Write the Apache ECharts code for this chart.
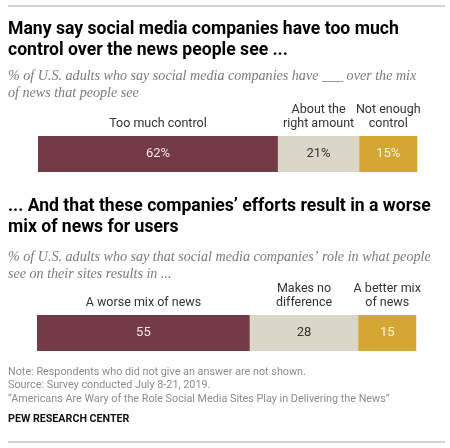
<!DOCTYPE html>
<html>
<head>
<meta charset="utf-8">
<script src="https://cdn.jsdelivr.net/npm/echarts@6/dist/echarts.min.js"></script>
<style>html,body{margin:0;padding:0;background:#fff;}#c{width:450px;height:448px;}</style>
</head>
<body>
<div id="c"></div>
<script>
const categories1 = ['Too much control', 'About the\nright amount', 'Not enough\ncontrol'];
const values1 = [62, 21, 15];
const categories2 = ['A worse mix of news', 'Makes no\ndifference', 'A better mix\nof news'];
const values2 = [55, 28, 15];
const colors = ['#733b47', '#dad7c8', '#d4a634'];
const valueColors = ['#f2e6e6', '#333333', '#fbf3dc'];

const title1 = 'Many say social media companies have too much\ncontrol over the news people see ...';
const sub1 = '% of U.S. adults who say social media companies have ___ over the mix\nof news that people see';
const title2 = '... And that these companies\u2019 efforts result in a worse\nmix of news for users';
const sub2 = '% of U.S. adults who say that social media companies\u2019 role in what people\nsee on their sites results in ...';
const notes = 'Note: Respondents who did not give an answer are not shown.\nSource: Survey conducted July 8-21, 2019.\n\u201cAmericans Are Wary of the Role Social Media Sites Play in Delivering the News\u201d';
const brand = 'PEW RESEARCH CENTER';

const chart = echarts.init(document.getElementById('c'));
const sans = 'Roboto, "Liberation Sans", sans-serif';
const serif = '"Liberation Serif", "DejaVu Serif", serif';

function makeSeries(vals, cats, idx, pct) {
  const out = [];
  vals.forEach((v, i) => {
    out.push({
      type: 'bar', stack: 'v' + idx, xAxisIndex: idx, yAxisIndex: idx,
      barWidth: 36, barGap: '-100%',
      data: [v], itemStyle: { color: colors[i] }, silent: true,
      label: { show: true, position: 'inside', formatter: () => v + (pct ? '%' : ''),
        color: valueColors[i], fontSize: 13, fontFamily: sans }
    });
  });
  vals.forEach((v, i) => {
    out.push({
      type: 'bar', stack: 'c' + idx, xAxisIndex: idx, yAxisIndex: idx,
      barWidth: 36, barGap: '-100%',
      data: [v], itemStyle: { color: 'rgba(0,0,0,0)' }, silent: true,
      label: { show: true, position: 'top', distance: 5, formatter: () => cats[i],
        color: '#333333', fontSize: 12.5, lineHeight: 14, fontFamily: sans, align: 'center' }
    });
  });
  return out;
}

const option = {
  animation: false,
  textStyle: { fontFamily: sans },
  title: [
    { text: title1, left: 8, top: 19, padding: 0,
      textStyle: { fontSize: 17.6, fontWeight: 'bold', color: '#000', lineHeight: 21, fontFamily: sans } },
    { text: sub1, left: 8, top: 68, padding: 0,
      textStyle: { fontSize: 14.1, fontStyle: 'italic', fontWeight: 'normal', color: '#7a7a7a', lineHeight: 17, fontFamily: serif } },
    { text: title2, left: 8, top: 196, padding: 0,
      textStyle: { fontSize: 17.6, fontWeight: 'bold', color: '#000', lineHeight: 21, fontFamily: sans } },
    { text: sub2, left: 8, top: 249, padding: 0,
      textStyle: { fontSize: 14.1, fontStyle: 'italic', fontWeight: 'normal', color: '#7a7a7a', lineHeight: 17, fontFamily: serif } },
    { text: notes, left: 8, top: 365, padding: 0,
      textStyle: { fontSize: 10.8, fontWeight: 'normal', color: '#8c8c8c', lineHeight: 13.8, fontFamily: sans } },
    { text: brand, left: 8, top: 413, padding: 0,
      textStyle: { fontSize: 10.7, fontWeight: 'bold', color: '#111', lineHeight: 13, fontFamily: sans } }
  ],
  grid: [
    { left: 38, width: 387, top: 136, height: 36 },
    { left: 37, width: 387, top: 315, height: 36 }
  ],
  xAxis: [
    { type: 'value', gridIndex: 0, min: 0, max: 100, show: false },
    { type: 'value', gridIndex: 1, min: 0, max: 100, show: false }
  ],
  yAxis: [
    { type: 'category', gridIndex: 0, data: [''], show: false },
    { type: 'category', gridIndex: 1, data: [''], show: false }
  ],
  graphic: [
    { type: 'line', shape: { x1: 8, y1: 6, x2: 445, y2: 6 }, style: { stroke: '#c4c4c4', lineWidth: 1.5 } },
    { type: 'line', shape: { x1: 8, y1: 442, x2: 445, y2: 442 }, style: { stroke: '#c4c4c4', lineWidth: 1.5 } }
  ],
  series: [].concat(makeSeries(values1, categories1, 0, true), makeSeries(values2, categories2, 1, false))
};
chart.setOption(option);
</script>
</body>
</html>
